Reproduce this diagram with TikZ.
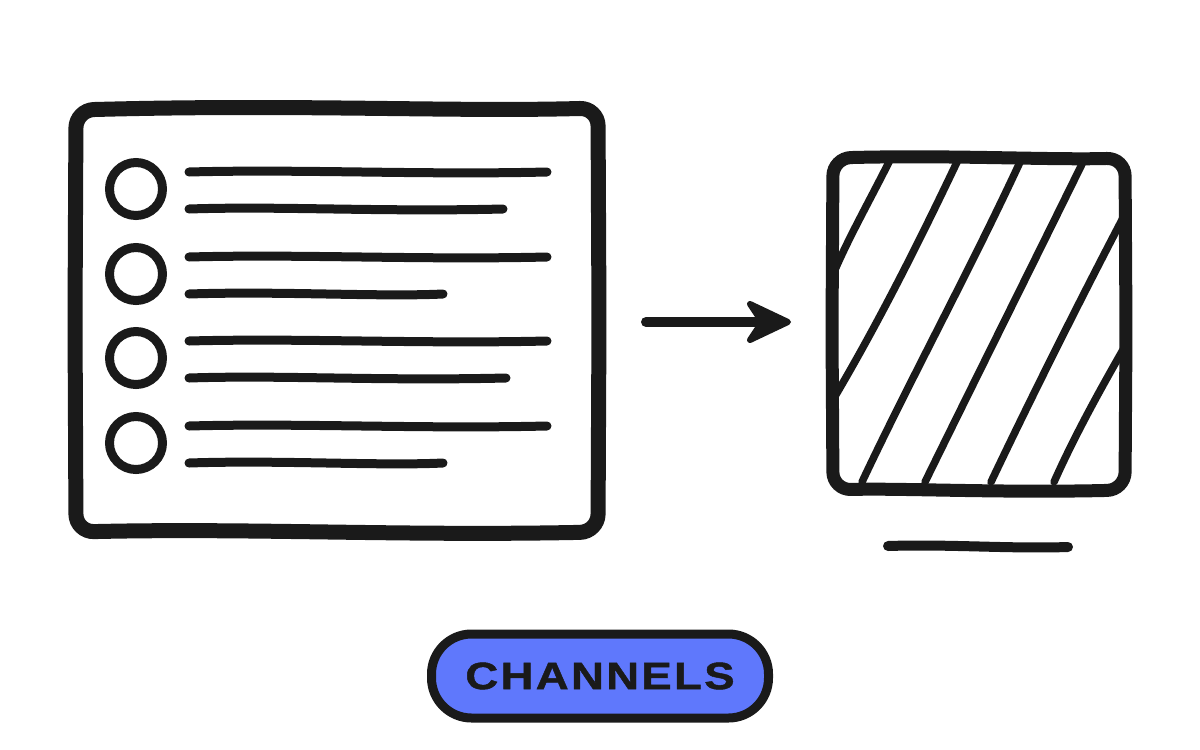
\documentclass[tikz,border=0pt]{standalone}
\usepackage{fontspec}
\setmainfont{Liberation Sans}
\newfontfamily\pillfont[FakeStretch=1.2,FakeBold=1.2,LetterSpace=6]{Liberation Sans Bold}
\usetikzlibrary{arrows.meta}
\definecolor{ink}{HTML}{1A1A1A}
\definecolor{pillblue}{HTML}{5F78FC}
\tikzset{
  inkline/.style={draw=ink, line width=9pt, line cap=round, line join=round},
  frame/.style={draw=ink, line width=15pt, rounded corners=18pt},
  bullet/.style={circle, draw=ink, line width=9pt, minimum size=53pt, inner sep=0pt},
  hatch/.style={draw=ink, line width=7.5pt, line cap=round},
  pill/.style={draw=ink, fill=pillblue, line width=9pt, rounded corners=40pt, minimum width=337pt, minimum height=84pt, inner sep=0pt}
}
\begin{document}
\begin{tikzpicture}[x=1pt,y=-1pt]
\useasboundingbox (0,0) rectangle (1200,750);
% left list panel
\draw[frame] (76,110) .. controls (300,104) and (450,112) .. (598,108) -- (599,320) -- (598,532) .. controls (400,536) and (250,528) .. (76,532) -- (75,320) -- cycle;
\foreach \i/\y/\l in {1/189/503, 2/274/443, 3/358/506, 4/443/443}{
  \node[bullet] (c\i) at (136,\y) {};
  \coordinate (a\i) at (189,{\y-17});
  \coordinate (b\i) at (547,{\y-17});
  \coordinate (d\i) at (189,{\y+20});
  \coordinate (e\i) at (\l,{\y+20});
  \draw[inkline] (a\i) .. controls (300,{\y-20}) and (420,{\y-14}) .. (b\i);
  \draw[inkline] (d\i) .. controls (280,{\y+17}) and (380,{\y+23}) .. (e\i);
}
% arrow
\coordinate (arrS) at (646,322);
\coordinate (arrE) at (788,322);
\draw[ink, line width=10pt, line cap=round] (arrS) -- (760,322);
\fill[ink, rounded corners=4pt] (arrE) -- (748,302) -- (760,322) -- (748,342) -- cycle;
\draw[ink, line width=6pt, line join=round, line cap=round] (arrE) -- (750,304) -- (762,322) -- (750,340) -- cycle;
% hatched square
\begin{scope}
\clip[rounded corners=18pt] (833,158) rectangle (1125,490);
\draw[hatch] (890,160) .. controls (870,200) and (850,235) .. (834,272);
\draw[hatch] (958,160) .. controls (920,240) and (880,320) .. (834,398);
\draw[hatch] (1021,160) .. controls (970,270) and (910,380) .. (862,482);
\draw[hatch] (1084,160) .. controls (1030,270) and (975,380) .. (925,482);
\draw[hatch] (1124,216) .. controls (1080,300) and (1030,400) .. (991,482);
\draw[hatch] (1124,348) .. controls (1100,390) and (1075,435) .. (1054,482);
\end{scope}
\draw[frame, line width=13pt] (833,158) .. controls (950,155) and (1050,160) .. (1125,158) -- (1126,330) -- (1125,490) .. controls (1000,493) and (900,488) .. (833,490) -- (832,330) -- cycle;
\coordinate (u1) at (888,546);
\coordinate (u2) at (1068,547);
\draw[inkline, line width=10pt] (u1) .. controls (950,544) and (1010,549) .. (u2);
% pill
\node[pill, text=ink, font=\pillfont\fontsize{38}{42}\selectfont] (lab) at (600,676) {CHANNELS};
\end{tikzpicture}
\end{document}
